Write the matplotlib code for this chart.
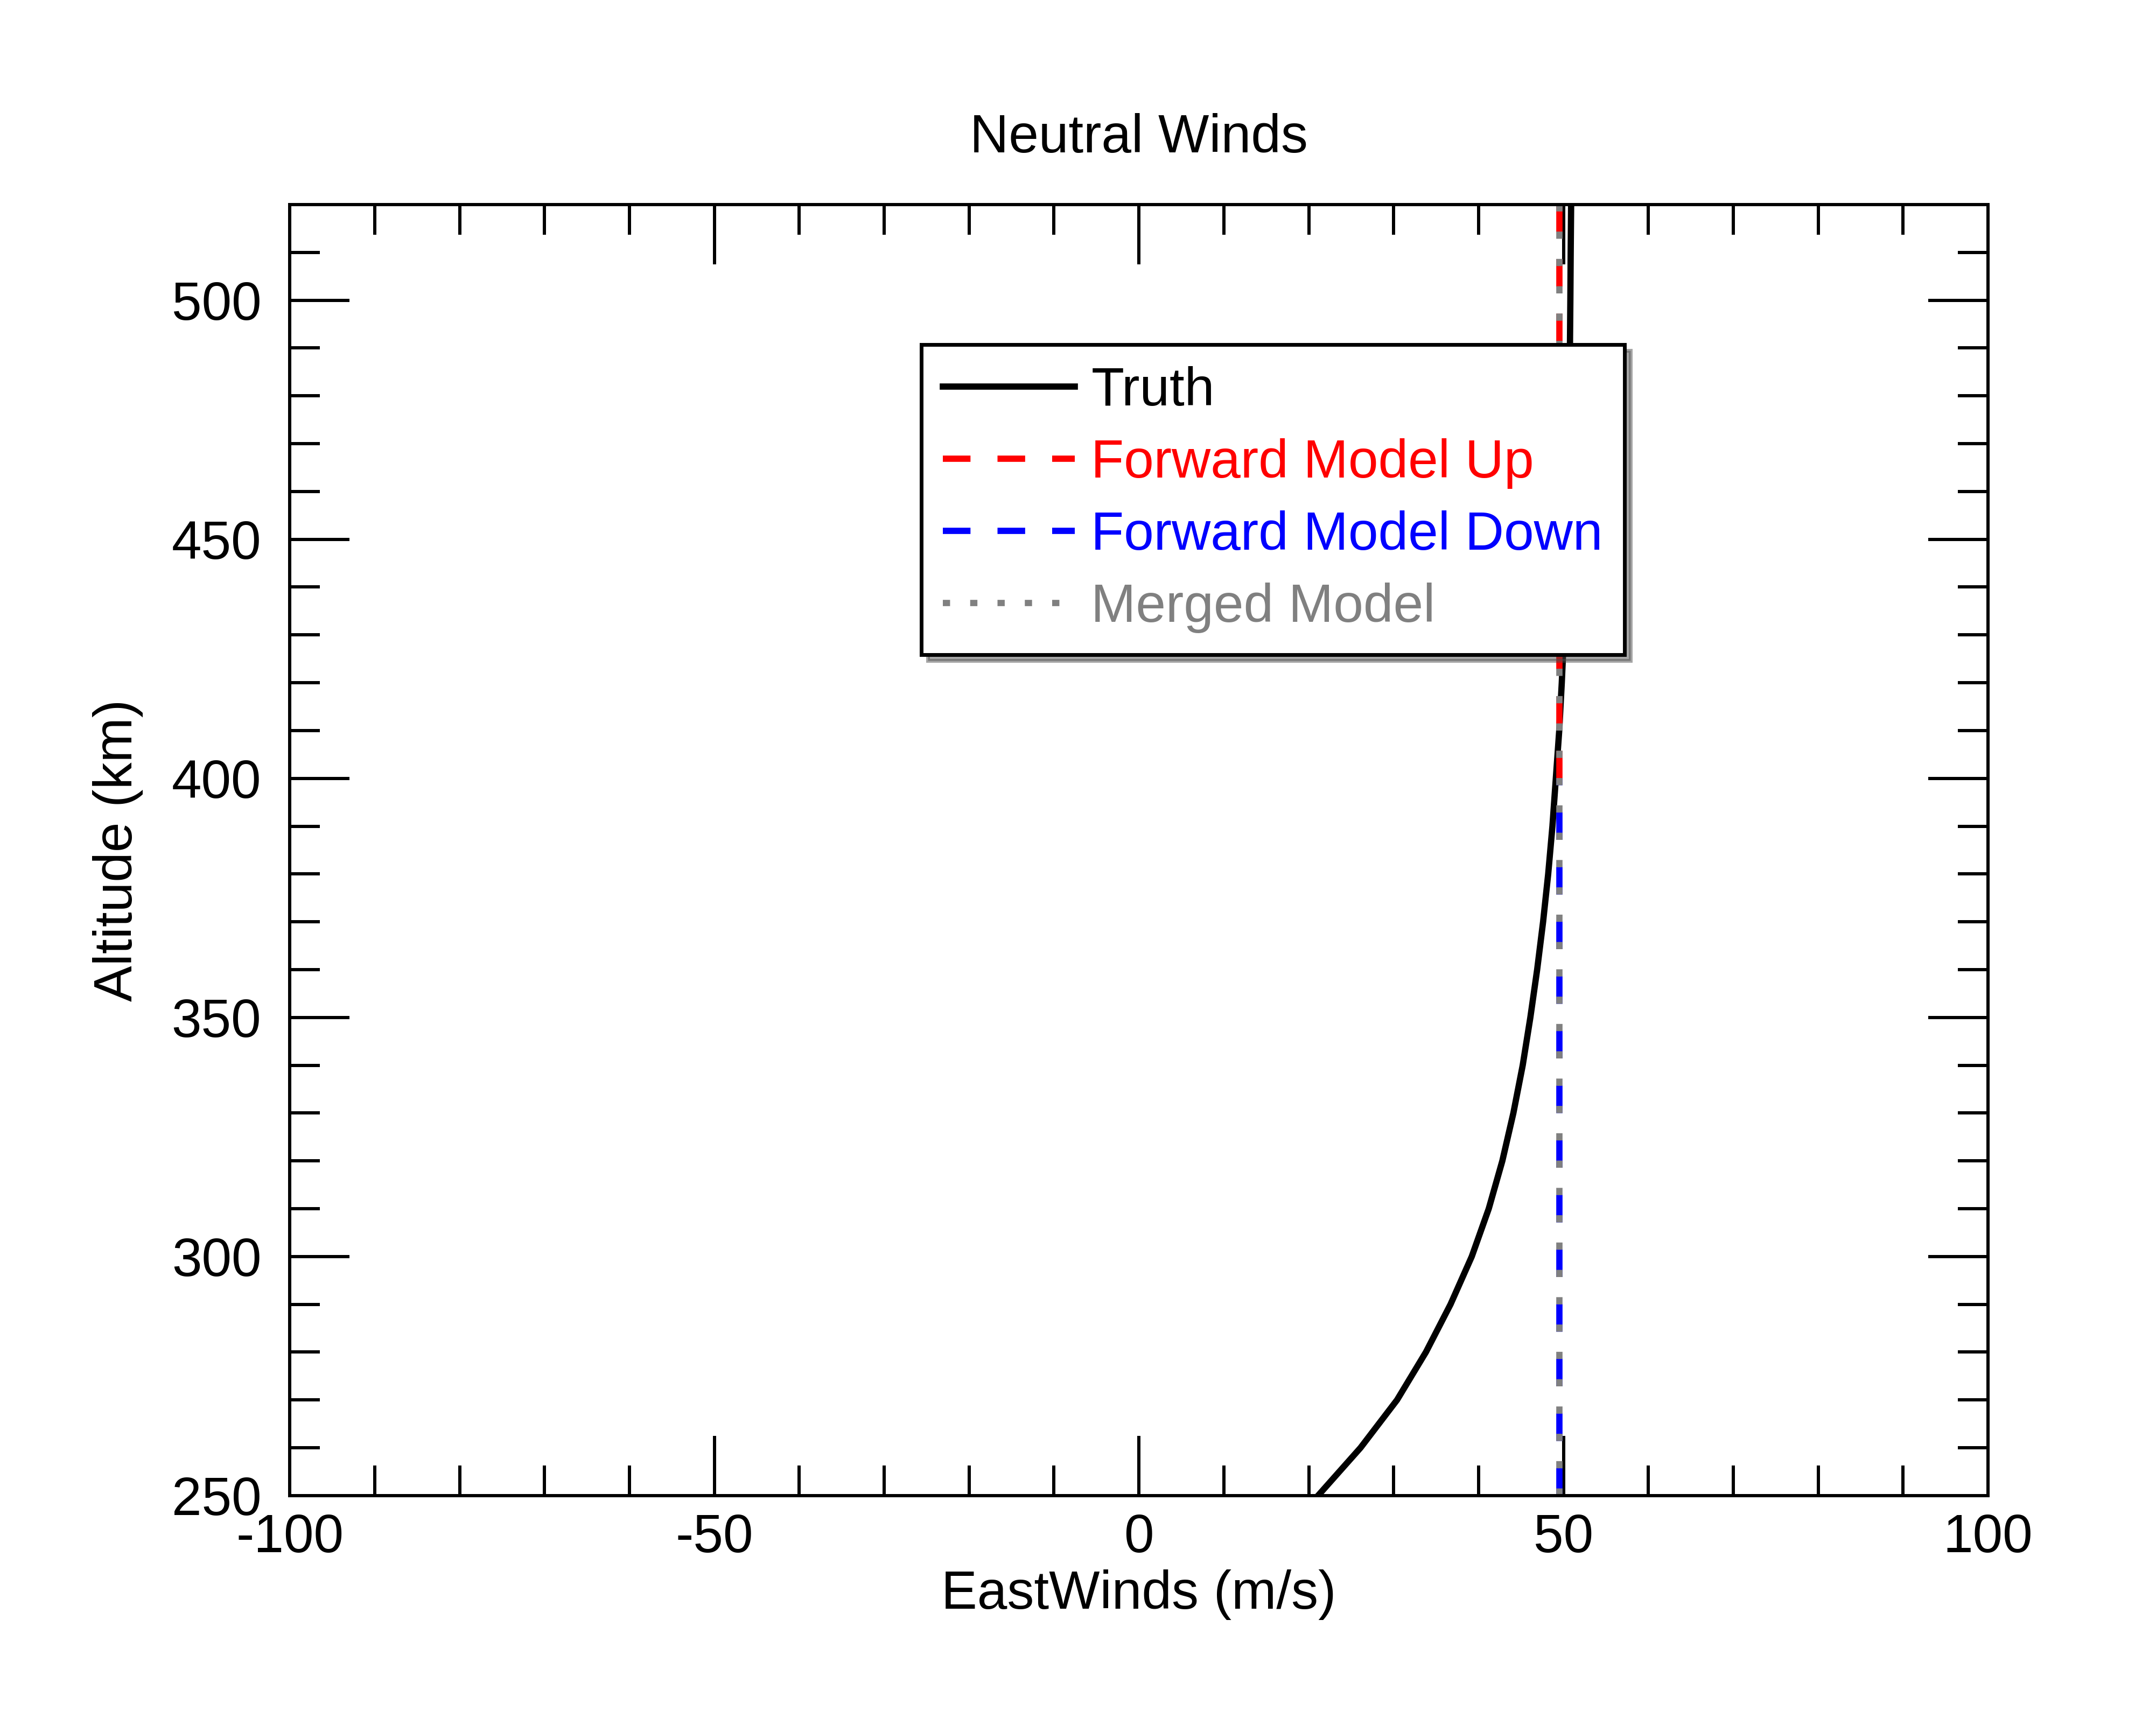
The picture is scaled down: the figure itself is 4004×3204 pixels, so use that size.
import matplotlib
matplotlib.use("Agg")
import matplotlib.pyplot as plt
from matplotlib.ticker import MultipleLocator

plt.rcParams["font.family"] = ["Liberation Sans", "DejaVu Sans"]
plt.rcParams["axes.unicode_minus"] = False

# truth profile (altitude km -> east wind m/s)
alt_truth = [250, 260, 270, 280, 290, 300, 310, 320, 330, 340, 350, 360, 370, 380,
             390, 400, 410, 420, 430, 440, 450, 460, 470, 480, 490, 500, 510, 520]
wind_truth = [21.1, 26.1, 30.4, 33.8, 36.7, 39.2, 41.2, 42.8, 44.1, 45.2, 46.1, 46.9,
              47.6, 48.2, 48.7, 49.1, 49.5, 49.8, 50.05, 50.25, 50.4, 50.52, 50.62,
              50.7, 50.76, 50.81, 50.85, 50.9]

# model profiles
alt_up = [400, 520]
wind_up = [49.5, 49.5]
alt_down = [250, 400]
wind_down = [49.5, 49.5]
alt_merged = [250, 520]
wind_merged = [49.5, 49.5]

fig = plt.figure(figsize=(10.01, 8.01), dpi=400)
ax = fig.add_axes([0.1344, 0.1330, 0.7877, 0.7484])

lw = 2.1
ax.plot(wind_truth, alt_truth, color="black", lw=lw, label="Truth")
ax.plot(wind_up, alt_up, color="red", lw=lw, dashes=(4.4, 4.3), label="Forward Model Up")
ax.plot(wind_down, alt_down, color="blue", lw=lw, dashes=(4.4, 4.3), label="Forward Model Down")
ax.plot(wind_merged, alt_merged, color="gray", lw=lw, dashes=(1.15, 3.2), label="Merged Model")

ax.set_xlim(-100, 100)
ax.set_ylim(250, 520)
ax.xaxis.set_major_locator(MultipleLocator(50))
ax.xaxis.set_minor_locator(MultipleLocator(10))
ax.yaxis.set_major_locator(MultipleLocator(50))
ax.yaxis.set_minor_locator(MultipleLocator(10))

for s in ax.spines.values():
    s.set_linewidth(1.08)
ax.tick_params(which="both", direction="in", top=True, right=True, width=1.08,
               labelsize=18)
ax.tick_params(which="major", length=20)
ax.tick_params(which="minor", length=10)
ax.tick_params(axis="x", pad=5.8)
ax.tick_params(axis="y", pad=9.5)

ax.set_title("Neutral Winds", fontsize=18, pad=17.5)
ax.set_xlabel("EastWinds (m/s)", fontsize=18, labelpad=2)
ax.set_ylabel("Altitude (km)", fontsize=18, labelpad=9.5)

leg = ax.legend(loc="upper left", bbox_to_anchor=(0.372, 0.8916), borderaxespad=0,
                fontsize=18, labelcolor="linecolor", fancybox=False, shadow=True,
                framealpha=1, edgecolor="black", handlelength=2.45,
                handletextpad=0.3, borderpad=0.4, labelspacing=0.4)
leg.get_frame().set_linewidth(1.25)

fig.savefig("out.png", dpi=400)
